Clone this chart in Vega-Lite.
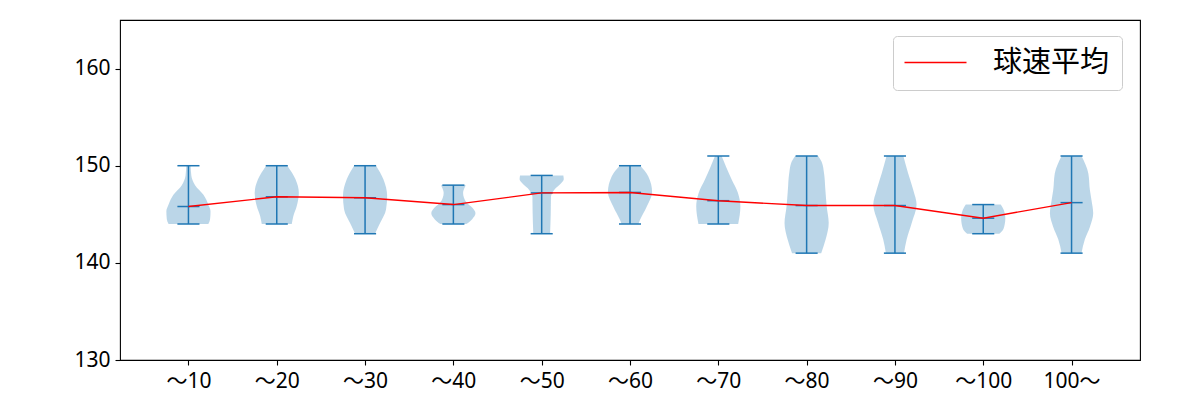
{
  "$schema": "https://vega.github.io/schema/vega-lite/v6.json",
  "width": 1020,
  "height": 340,
  "autosize": {"type": "none"},
  "padding": {"left": 120, "top": 20, "right": 60, "bottom": 40},
  "background": "white",
  "config": {
    "view": {"stroke": "black", "strokeWidth": 1.1},
    "font": "Noto Sans CJK JP",
    "axis": {
      "domain": false, "grid": false, "ticks": true, "tickColor": "black", "tickSize": 5, "tickWidth": 1.1,
      "labelColor": "black", "labelFontSize": 21, "labelFont": "Noto Sans, Noto Sans CJK JP", "labelPadding": 5, "title": null
    },
    "legend": {
      "orient": "none", "legendX": 773, "legendY": 16, "title": null,
      "strokeColor": "#cccccc", "fillColor": "white", "cornerRadius": 4, "padding": 12,
      "symbolType": "M-1.5,0H4.7", "symbolSize": 400, "symbolStrokeWidth": 1.5,
      "labelFontSize": 29, "labelFont": "Noto Sans CJK JP", "labelColor": "black", "labelOffset": 59
    }
  },
  "datasets": {
    "violin": [
      {"pos": 1, "v": 144.0, "lo": 0.775, "hi": 1.225},
      {"pos": 1, "v": 144.5, "lo": 0.755, "hi": 1.245},
      {"pos": 1, "v": 145.3, "lo": 0.75, "hi": 1.25},
      {"pos": 1, "v": 146.0, "lo": 0.775, "hi": 1.225},
      {"pos": 1, "v": 147.0, "lo": 0.83, "hi": 1.17},
      {"pos": 1, "v": 148.0, "lo": 0.925, "hi": 1.075},
      {"pos": 1, "v": 149.0, "lo": 0.9675, "hi": 1.0325},
      {"pos": 1, "v": 150.0, "lo": 0.975, "hi": 1.025},

      {"pos": 2, "v": 144.0, "lo": 1.83, "hi": 2.17},
      {"pos": 2, "v": 144.8, "lo": 1.8125, "hi": 2.1875},
      {"pos": 2, "v": 145.8, "lo": 1.775, "hi": 2.225},
      {"pos": 2, "v": 147.2, "lo": 1.75, "hi": 2.25},
      {"pos": 2, "v": 148.6, "lo": 1.7875, "hi": 2.2125},
      {"pos": 2, "v": 150.0, "lo": 1.88, "hi": 2.12},

      {"pos": 3, "v": 143.0, "lo": 2.8875, "hi": 3.1125},
      {"pos": 3, "v": 144.1, "lo": 2.83, "hi": 3.17},
      {"pos": 3, "v": 145.5, "lo": 2.7625, "hi": 3.2375},
      {"pos": 3, "v": 146.9, "lo": 2.75, "hi": 3.25},
      {"pos": 3, "v": 148.6, "lo": 2.7925, "hi": 3.2075},
      {"pos": 3, "v": 150.0, "lo": 2.875, "hi": 3.125},

      {"pos": 4, "v": 144.0, "lo": 3.8525, "hi": 4.1475},
      {"pos": 4, "v": 144.5, "lo": 3.7875, "hi": 4.2125},
      {"pos": 4, "v": 145.1, "lo": 3.75, "hi": 4.25},
      {"pos": 4, "v": 145.7, "lo": 3.7875, "hi": 4.2125},
      {"pos": 4, "v": 146.1, "lo": 3.84, "hi": 4.16},
      {"pos": 4, "v": 146.7, "lo": 3.88, "hi": 4.12},
      {"pos": 4, "v": 147.2, "lo": 3.89, "hi": 4.11},
      {"pos": 4, "v": 147.7, "lo": 3.875, "hi": 4.125},
      {"pos": 4, "v": 148.0, "lo": 3.86, "hi": 4.14},

      {"pos": 5, "v": 143.0, "lo": 4.905, "hi": 5.095},
      {"pos": 5, "v": 145.1, "lo": 4.8975, "hi": 5.1025},
      {"pos": 5, "v": 146.8, "lo": 4.895, "hi": 5.105},
      {"pos": 5, "v": 147.3, "lo": 4.875, "hi": 5.125},
      {"pos": 5, "v": 147.7, "lo": 4.84, "hi": 5.16},
      {"pos": 5, "v": 148.2, "lo": 4.78, "hi": 5.22},
      {"pos": 5, "v": 148.6, "lo": 4.75, "hi": 5.25},
      {"pos": 5, "v": 149.0, "lo": 4.755, "hi": 5.245},

      {"pos": 6, "v": 144.0, "lo": 5.905, "hi": 6.095},
      {"pos": 6, "v": 144.4, "lo": 5.8875, "hi": 6.1125},
      {"pos": 6, "v": 145.8, "lo": 5.81, "hi": 6.19},
      {"pos": 6, "v": 147.3, "lo": 5.75, "hi": 6.25},
      {"pos": 6, "v": 148.9, "lo": 5.7925, "hi": 6.2075},
      {"pos": 6, "v": 150.0, "lo": 5.8825, "hi": 6.1175},

      {"pos": 7, "v": 144.0, "lo": 6.775, "hi": 7.225},
      {"pos": 7, "v": 145.8, "lo": 6.75, "hi": 7.25},
      {"pos": 7, "v": 147.2, "lo": 6.7775, "hi": 7.2225},
      {"pos": 7, "v": 148.6, "lo": 6.85, "hi": 7.15},
      {"pos": 7, "v": 149.9, "lo": 6.9125, "hi": 7.0875},
      {"pos": 7, "v": 151.0, "lo": 6.9625, "hi": 7.0375},

      {"pos": 8, "v": 141.0, "lo": 7.835, "hi": 8.165},
      {"pos": 8, "v": 142.4, "lo": 7.785, "hi": 8.215},
      {"pos": 8, "v": 144.1, "lo": 7.75, "hi": 8.25},
      {"pos": 8, "v": 145.8, "lo": 7.7725, "hi": 8.2275},
      {"pos": 8, "v": 147.5, "lo": 7.7875, "hi": 8.2125},
      {"pos": 8, "v": 149.2, "lo": 7.8025, "hi": 8.1975},
      {"pos": 8, "v": 150.4, "lo": 7.83, "hi": 8.17},
      {"pos": 8, "v": 151.0, "lo": 7.87, "hi": 8.13},

      {"pos": 9, "v": 141.0, "lo": 8.8975, "hi": 9.1025},
      {"pos": 9, "v": 142.4, "lo": 8.8675, "hi": 9.1325},
      {"pos": 9, "v": 144.1, "lo": 8.81, "hi": 9.19},
      {"pos": 9, "v": 146.0, "lo": 8.755, "hi": 9.245},
      {"pos": 9, "v": 147.5, "lo": 8.7925, "hi": 9.2075},
      {"pos": 9, "v": 149.2, "lo": 8.85, "hi": 9.15},
      {"pos": 9, "v": 151.0, "lo": 8.905, "hi": 9.095},

      {"pos": 10, "v": 143.0, "lo": 9.8175, "hi": 10.1825},
      {"pos": 10, "v": 143.5, "lo": 9.77, "hi": 10.23},
      {"pos": 10, "v": 144.6, "lo": 9.75, "hi": 10.25},
      {"pos": 10, "v": 145.5, "lo": 9.77, "hi": 10.23},
      {"pos": 10, "v": 146.0, "lo": 9.8025, "hi": 10.1975},

      {"pos": 11, "v": 141.0, "lo": 10.8875, "hi": 11.1125},
      {"pos": 11, "v": 142.4, "lo": 10.85, "hi": 11.15},
      {"pos": 11, "v": 143.7, "lo": 10.7925, "hi": 11.2075},
      {"pos": 11, "v": 145.1, "lo": 10.755, "hi": 11.245},
      {"pos": 11, "v": 146.5, "lo": 10.775, "hi": 11.225},
      {"pos": 11, "v": 147.5, "lo": 10.7925, "hi": 11.2075},
      {"pos": 11, "v": 149.2, "lo": 10.81, "hi": 11.19},
      {"pos": 11, "v": 151.0, "lo": 10.8875, "hi": 11.1125}
    ],
    "stats": [
      {"pos": 1, "min": 144, "max": 150, "mean": 145.8, "l": 0.875, "r": 1.125, "series": "球速平均"},
      {"pos": 2, "min": 144, "max": 150, "mean": 146.8, "l": 1.875, "r": 2.125, "series": "球速平均"},
      {"pos": 3, "min": 143, "max": 150, "mean": 146.7, "l": 2.875, "r": 3.125, "series": "球速平均"},
      {"pos": 4, "min": 144, "max": 148, "mean": 146.0, "l": 3.875, "r": 4.125, "series": "球速平均"},
      {"pos": 5, "min": 143, "max": 149, "mean": 147.2, "l": 4.875, "r": 5.125, "series": "球速平均"},
      {"pos": 6, "min": 144, "max": 150, "mean": 147.25, "l": 5.875, "r": 6.125, "series": "球速平均"},
      {"pos": 7, "min": 144, "max": 151, "mean": 146.4, "l": 6.875, "r": 7.125, "series": "球速平均"},
      {"pos": 8, "min": 141, "max": 151, "mean": 145.9, "l": 7.875, "r": 8.125, "series": "球速平均"},
      {"pos": 9, "min": 141, "max": 151, "mean": 145.9, "l": 8.875, "r": 9.125, "series": "球速平均"},
      {"pos": 10, "min": 143, "max": 146, "mean": 144.6, "l": 9.875, "r": 10.125, "series": "球速平均"},
      {"pos": 11, "min": 141, "max": 151, "mean": 146.2, "l": 10.875, "r": 11.125, "series": "球速平均"}
    ]
  },
  "layer": [
    {
      "data": {"name": "violin"},
      "mark": {"type": "area", "orient": "horizontal", "interpolate": "monotone", "fill": "#1f77b4", "fillOpacity": 0.3, "stroke": null},
      "encoding": {
        "y": {"field": "v", "type": "quantitative", "scale": {"domain": [130, 165], "nice": false, "zero": false},
              "axis": {"values": [130, 140, 150, 160], "title": null}},
        "x": {"field": "lo", "type": "quantitative", "scale": {"domain": [0.225, 11.775], "nice": false, "zero": false},
              "axis": {"values": [1, 2, 3, 4, 5, 6, 7, 8, 9, 10, 11], "title": null,
                       "labelExpr": "['〜10','〜20','〜30','〜40','〜50','〜60','〜70','〜80','〜90','〜100','100〜'][datum.value - 1]"}},
        "x2": {"field": "hi"},
        "detail": {"field": "pos", "type": "nominal"}
      }
    },
    {
      "data": {"name": "stats"},
      "mark": {"type": "rule", "color": "#1f77b4", "strokeWidth": 1.5},
      "encoding": {
        "x": {"field": "pos", "type": "quantitative"},
        "y": {"field": "min", "type": "quantitative"},
        "y2": {"field": "max"}
      }
    },
    {
      "data": {"name": "stats"},
      "mark": {"type": "rule", "color": "#1f77b4", "strokeWidth": 1.5},
      "encoding": {
        "x": {"field": "l", "type": "quantitative"},
        "x2": {"field": "r"},
        "y": {"field": "min", "type": "quantitative"}
      }
    },
    {
      "data": {"name": "stats"},
      "mark": {"type": "rule", "color": "#1f77b4", "strokeWidth": 1.5},
      "encoding": {
        "x": {"field": "l", "type": "quantitative"},
        "x2": {"field": "r"},
        "y": {"field": "max", "type": "quantitative"}
      }
    },
    {
      "data": {"name": "stats"},
      "mark": {"type": "rule", "color": "#1f77b4", "strokeWidth": 1.5},
      "encoding": {
        "x": {"field": "l", "type": "quantitative"},
        "x2": {"field": "r"},
        "y": {"field": "mean", "type": "quantitative"}
      }
    },
    {
      "data": {"name": "stats"},
      "mark": {"type": "line", "strokeWidth": 1.4},
      "encoding": {
        "x": {"field": "pos", "type": "quantitative"},
        "y": {"field": "mean", "type": "quantitative"},
        "color": {"field": "series", "type": "nominal", "scale": {"range": ["#ff0000"]}}
      }
    }
  ]
}
